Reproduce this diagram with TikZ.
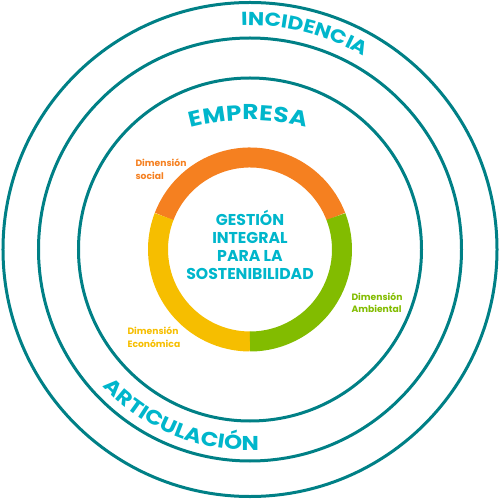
\documentclass[tikz,border=0pt]{standalone}
\usepackage{fontspec}
\setmainfont{Poppins}
\newfontfamily\arcfont{Poppins}[FakeStretch=1.15]
\usetikzlibrary{decorations.text}

\definecolor{ringteal}{RGB}{0,128,134}
\definecolor{titlecyan}{RGB}{0,182,203}
\definecolor{dimorange}{RGB}{245,128,32}
\definecolor{dimgreen}{RGB}{130,188,0}
\definecolor{dimyellow}{RGB}{246,190,0}

\begin{document}
\begin{tikzpicture}[x=1pt, y=1pt,
        ring/.style={draw=ringteal, line width=3pt},
        segment/.style={line width=20pt},
        dimlabel/.style={anchor=base west, align=left,
            font=\fontsize{9.2}{12.6}\selectfont\bfseries},
        centertext/.style={anchor=base, align=center, text=titlecyan,
            font=\fontsize{15.7}{18.3}\selectfont\bfseries}
      ]
      \useasboundingbox (-250,-250.5) rectangle (250,249.5);
      \draw[ring] (0,0) circle[radius=247];
      \draw[ring] (0,0) circle[radius=211.5];
      \draw[ring] (0,0) circle[radius=171.5];
      \draw[segment, dimorange] (21:92) arc[start angle=21, end angle=159, radius=92];
      \draw[segment, dimyellow] (159:92) arc[start angle=159, end angle=270, radius=92];
      \draw[segment, dimgreen] (270:92) arc[start angle=270, end angle=381, radius=92];
      \node[centertext] (gestion) at (0,-30.5)
      {GESTIÓN\\INTEGRAL\\PARA LA\\SOSTENIBILIDAD};
      \node[dimlabel, text=dimorange] (social) at (-118,70.2)
      {Dimensión\\social};
      \node[dimlabel, text=dimgreen] (ambiental) at (98,-63.2)
      {Dimensión\\Ambiental};
      \node[dimlabel, text=dimyellow] (economica) at (-126,-97.8)
      {Dimensión\\Económica};
      \path[decorate, decoration={text along path, text align={fit to path},
          text={|\arcfont\fontsize{18.8}{18.8}\selectfont\bfseries\color{titlecyan}|INCIDENCIA}}]
        (92.2:224) arc[start angle=92.2, end angle=60, radius=224];
      \path[decorate, decoration={text along path, text align={fit to path},
          text={|\arcfont\fontsize{21.5}{21.5}\selectfont\bfseries\color{titlecyan}|EMPRESA}}]
        ([shift={(0,-100.5)}]105:230) arc[start angle=105, end angle=75.9, radius=230];
      \path[decorate, decoration={text along path, text align={fit to path},
          text={|\arcfont\fontsize{20}{20}\selectfont\bfseries\color{titlecyan}|ARTICULACIÓN}}]
        (223:201) arc[start angle=223, end angle=271.5, radius=201];
    \end{tikzpicture}
\end{document}
